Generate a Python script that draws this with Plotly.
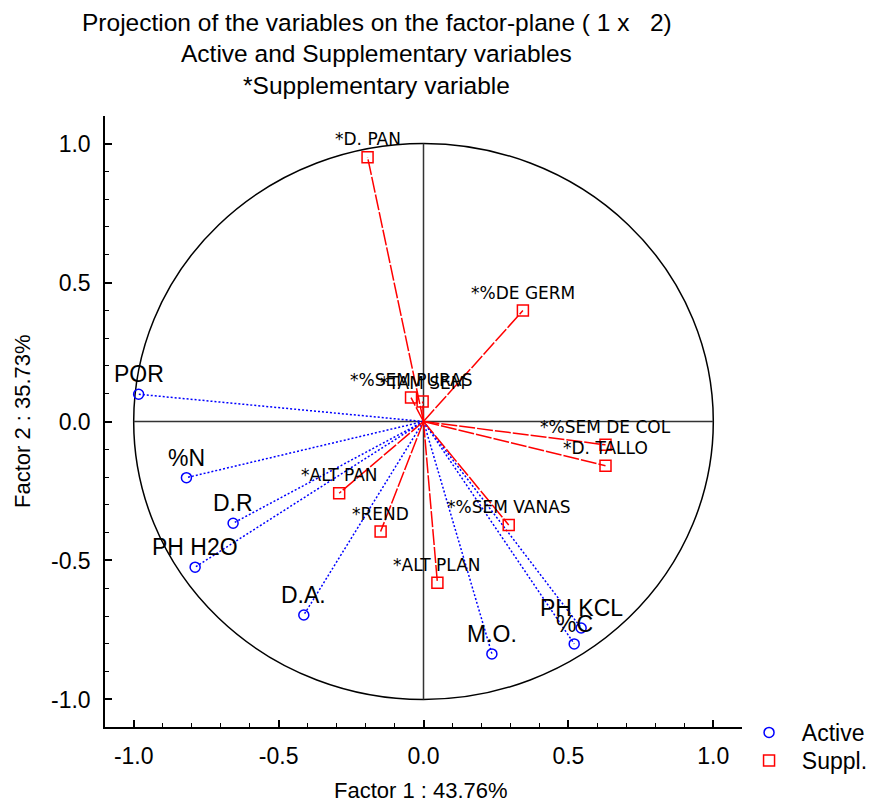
import plotly.graph_objects as go

# Active variables: coordinates on factors 1 and 2
active_names = ["POR", "%N", "D.R", "PH H2O", "D.A.", "M.O.", "%C", "PH KCL"]
active_f1 = [-0.983, -0.818, -0.657, -0.788, -0.413, 0.236, 0.520, 0.544]
active_f2 = [0.098, -0.202, -0.366, -0.524, -0.696, -0.836, -0.800, -0.743]

# Supplementary variables: coordinates on factors 1 and 2
suppl_names = ["*D. PAN", "*%DE GERM", "*%SEM PURAS", "*TAM SEM", "*%SEM DE COL",
               "*D. TALLO", "*ALT PAN", "*REND", "*ALT PLAN", "*%SEM VANAS"]
suppl_f1 = [-0.193, 0.343, -0.043, -0.003, 0.628, 0.628, -0.291, -0.148, 0.048, 0.294]
suppl_f2 = [0.951, 0.399, 0.086, 0.072, -0.084, -0.159, -0.258, -0.396, -0.580, -0.372]

major_ticks = [-1.0, -0.5, 0.0, 0.5, 1.0]
major_tick_text = ["-1.0", "-0.5", "0.0", "0.5", "1.0"]

ARIAL = "Liberation Sans, Arial, sans-serif"
VERDANA = "DejaVu Sans, Verdana, sans-serif"
BLUE = "rgb(0,0,255)"
RED = "rgb(255,0,0)"


def rays(xs, ys):
    """Segments from the origin to each variable point, separated by gaps."""
    rx, ry = [], []
    for x, y in zip(xs, ys):
        rx += [0, x, None]
        ry += [0, y, None]
    return rx, ry


fig = go.Figure()

ax, ay = rays(active_f1, active_f2)
fig.add_trace(go.Scatter(x=ax, y=ay, mode="lines", showlegend=False, hoverinfo="skip",
                         line=dict(color=BLUE, width=1.5, dash="2px,2px")))
sx, sy = rays(suppl_f1, suppl_f2)
fig.add_trace(go.Scatter(x=sx, y=sy, mode="lines", showlegend=False, hoverinfo="skip",
                         line=dict(color=RED, width=1.5, dash="16px,2px")))

fig.add_trace(go.Scatter(x=active_f1, y=active_f2, mode="markers", name="\u00a0\u00a0Active",
                         text=active_names, legend="legend",
                         marker=dict(symbol="circle-open", size=10, color=BLUE,
                                     line=dict(width=1.5, color=BLUE))))
fig.add_trace(go.Scatter(x=suppl_f1, y=suppl_f2, mode="markers", name="\u00a0\u00a0Suppl.",
                         text=suppl_names, legend="legend2",
                         marker=dict(symbol="square-open", size=11, color=RED,
                                     line=dict(width=1.5, color=RED))))

# Unit circle and the two factor axes through the origin
fig.add_shape(type="circle", xref="x", yref="y", x0=-1, y0=-1, x1=1, y1=1,
              line=dict(color="black", width=1.5), layer="below")
fig.add_shape(type="line", xref="x", yref="y", x0=-1, y0=0, x1=1, y1=0,
              line=dict(color="#333333", width=1.5), layer="below")
fig.add_shape(type="line", xref="x", yref="y", x0=0, y0=-1, x1=0, y1=1,
              line=dict(color="#333333", width=1.5), layer="below")

annotations = []
for n, x, y in zip(active_names, active_f1, active_f2):
    annotations.append(dict(x=x, y=y, text=n, showarrow=False, yshift=20,
                            font=dict(family=ARIAL, size=23, color="black")))
for n, x, y in zip(suppl_names, suppl_f1, suppl_f2):
    annotations.append(dict(x=x, y=y, text=n, showarrow=False, yshift=18,
                            font=dict(family=VERDANA, size=17, color="black")))

titles = ["Projection of the variables on the factor-plane ( 1 x \u00a0 2)",
          "Active and Supplementary variables",
          "*Supplementary variable"]
for t, yp in zip(titles, [1.1538, 1.1031, 1.0491]):
    annotations.append(dict(xref="paper", yref="paper", x=0.427, y=yp, text=t,
                            showarrow=False, xanchor="center", yanchor="middle",
                            font=dict(family=ARIAL, size=24.5, color="black")))

annotations.append(dict(xref="paper", yref="paper", x=0.496, y=-0.1047,
                        text="Factor 1 : 43.76%", showarrow=False,
                        xanchor="center", yanchor="middle",
                        font=dict(family=ARIAL, size=22, color="black")))
annotations.append(dict(xref="paper", yref="paper", x=-0.1303, y=0.5008,
                        text="Factor 2 : 35.73%", showarrow=False, textangle=-90,
                        xanchor="center", yanchor="middle",
                        font=dict(family=ARIAL, size=22, color="black")))

axis_common = dict(
    tickmode="array", tickvals=major_ticks, ticktext=major_tick_text,
    ticks="inside", ticklen=7, tickwidth=1.5, tickcolor="black",
    showline=True, linecolor="black", linewidth=1.5,
    showgrid=False, zeroline=False,
    tickfont=dict(family=ARIAL, size=23, color="black"),
    minor=dict(tickmode="linear", tick0=0, dtick=0.1, ticks="inside",
               ticklen=4, tickwidth=1, tickcolor="black", showgrid=False),
    range=[-1.099, 1.099], fixedrange=True, automargin=False,
)

legend_common = dict(xref="container", yref="container", x=0.859,
                     xanchor="left", yanchor="top",
                     bgcolor="rgba(0,0,0,0)", borderwidth=0,
                     font=dict(family=ARIAL, size=23, color="black"))

fig.update_layout(
    width=872, height=802,
    margin=dict(l=105, r=130, t=116, b=75, autoexpand=False),
    paper_bgcolor="white", plot_bgcolor="white",
    xaxis=dict(axis_common, ticklabelstandoff=8),
    yaxis=dict(axis_common, ticklabelstandoff=8),
    annotations=annotations,
    showlegend=True,
    legend=dict(legend_common, y=0.1135),
    legend2=dict(legend_common, y=0.0786),
)

fig.write_html("out.html")
